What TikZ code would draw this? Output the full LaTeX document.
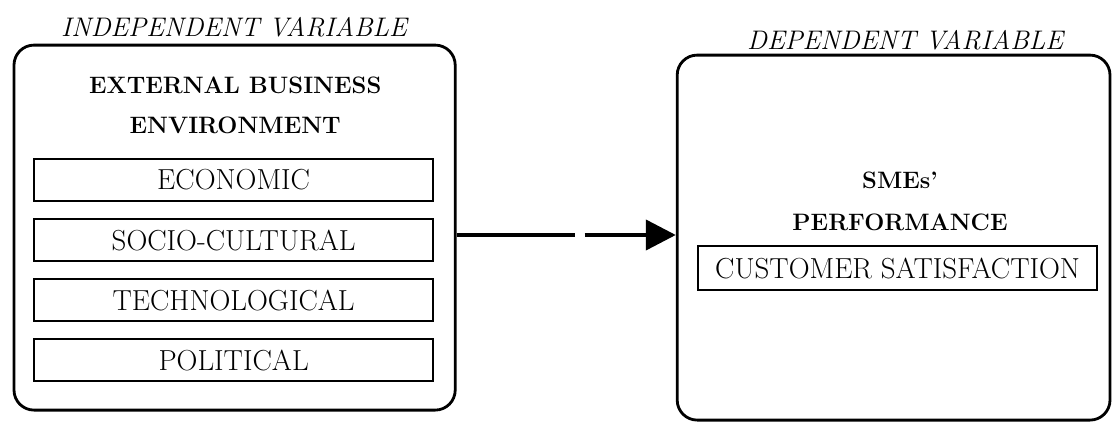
\documentclass[tikz,border=0pt]{standalone}
\usepackage{fontspec}
\usepackage{tikz}
\usetikzlibrary{arrows.meta}

\begin{document}
\begin{tikzpicture}[
    txt/.style={font=\fontsize{20.6}{24}\selectfont},
    head/.style={font=\fontsize{16.9}{20}\selectfont\bfseries},
    vartitle/.style={font=\fontsize{19.1}{23}\selectfont\itshape},
    bigbox/.style={draw, line width=2pt, rounded corners=0.5cm},
    factor/.style={draw, line width=1.8pt, minimum width=9.98cm, minimum height=1.05cm, inner sep=0pt, txt}
]
    \useasboundingbox (0, 0) rectangle (28, 10.65);
    \node[bigbox, minimum width=11.03cm, minimum height=9.125cm] (indep) at (5.865, 4.96) {};
    \node[bigbox, minimum width=10.82cm, minimum height=9.125cm] (dep) at (22.34, 4.71) {};
    \node[vartitle] (indeptitle) at (5.85, 9.975) {INDEPENDENT VARIABLE};
    \node[vartitle] (deptitle) at (22.63, 9.65) {DEPENDENT VARIABLE};
    \node[head] (ext1) at (5.88, 8.525) {EXTERNAL BUSINESS};
    \node[head] (ext2) at (5.88, 7.525) {ENVIRONMENT};
    \node[factor] (economic) at (5.84, 6.15) {ECONOMIC};
    \node[factor] (social) at (5.84, 4.65) {SOCIO-CULTURAL};
    \node[factor] (techno) at (5.84, 3.15) {TECHNOLOGICAL};
    \node[factor] (political) at (5.84, 1.65) {POLITICAL};
    \node[head] (smes) at (22.5, 6.15) {SMEs'};
    \node[head] (perf) at (22.5, 5.1) {PERFORMANCE};
    \node[factor, minimum height=1.1cm] (custsat) at (22.44, 3.95) {CUSTOMER SATISFACTION};
    \draw[-{Triangle[length=0.75cm, width=0.75cm]}, line width=3pt, dash pattern={on 2.95cm off 0.25cm on 6cm}]
        (indep.east |- 0, 4.775) -- (dep.west |- 0, 4.775);
\end{tikzpicture}
\end{document}
